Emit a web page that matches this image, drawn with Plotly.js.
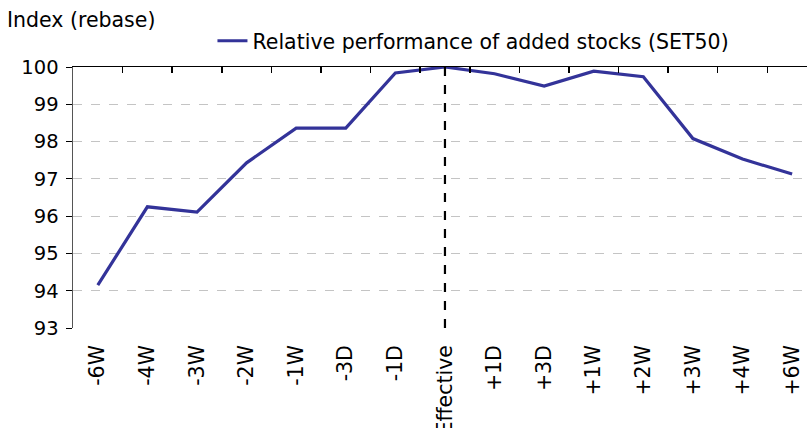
<!DOCTYPE html>
<html><head><meta charset="utf-8">
<script src="https://cdn.plot.ly/plotly-3.0.1.min.js"></script>
<style>body{margin:0;background:#fff}#chart{width:807px;height:428px}</style>
</head><body><div id="chart"></div>
<script>
const categories = ['-6W','-4W','-3W','-2W','-1W','-3D','-1D','Effective','+1D','+3D','+1W','+2W','+3W','+4W','+6W'];
const values = [94.15, 96.25, 96.11, 97.43, 98.36, 98.36, 99.84, 100.0, 99.82, 99.49, 99.89, 99.74, 98.08, 97.53, 97.13];
const seriesName = 'Relative performance of added stocks (SET50)';
const yTicks = [93,94,95,96,97,98,99,100];
const eventCategory = 'Effective';

const idx = categories.map((c,i)=>i);
const FONT = 'DejaVu Sans';
const trace = {
  x: idx, y: values, type: 'scatter', mode: 'lines', name: seriesName,
  line: {color: '#333399', width: 3.2}, xaxis: 'x', yaxis: 'y'
};
const evI = categories.indexOf(eventCategory);
const layout = {
  width: 807, height: 428,
  margin: {l: 73, r: 0, t: 67, b: 100},
  paper_bgcolor: '#fff', plot_bgcolor: '#fff',
  font: {family: FONT, size: 20, color: '#000'},
  title: {text: 'Index (rebase)', xref: 'container', yref: 'container', x: 7/807, xanchor: 'left', y: 1-20/428, yanchor: 'middle', font: {family: FONT, size: 20.5, color: '#000'}},
  showlegend: true,
  legend: {orientation: 'h', x: 0.19, xanchor: 'left', y: 1.1, yanchor: 'middle', font: {family: FONT, size: 20.5}, bgcolor: 'rgba(0,0,0,0)'},
  xaxis: {
    range: [-0.5, 14.3], tickmode: 'array', tickvals: idx, ticktext: categories,
    tickangle: -90, showline: false, ticks: '', showgrid: false, zeroline: false,
    tickfont: {family: FONT, size: 20.5}, ticklabelstandoff: 12, fixedrange: true
  },
  xaxis2: {
    overlaying: 'x', side: 'top', anchor: 'y', range: [-0.5, 14.3],
    tickmode: 'array', tickvals: idx.map(i=>i-0.5).concat([14.5]), showticklabels: false,
    ticks: 'inside', ticklen: 6, tickcolor: '#000', tickwidth: 1.5,
    showline: true, linecolor: '#000', linewidth: 1.5, showgrid: false, zeroline: false
  },
  yaxis: {
    range: [93, 100], tickmode: 'array', tickvals: yTicks,
    showline: true, linecolor: '#555', linewidth: 1.5, ticks: 'outside', ticklen: 6, tickcolor: '#000',
    showgrid: true, gridcolor: '#c4c4c4', griddash: 'dash', gridwidth: 1, zeroline: false,
    tickfont: {family: FONT, size: 19.5}, ticklabelstandoff: 3
  },
  shapes: [{type: 'line', xref: 'x', yref: 'paper', x0: evI, x1: evI, y0: 0, y1: 1,
    line: {color: '#000', width: 2.2, dash: 'dash'}}]
};
const dummy = {x: [0], y: [93], xaxis: 'x2', yaxis: 'y', type: 'scatter', mode: 'markers', marker: {opacity: 0}, showlegend: false, hoverinfo: 'skip'};
Plotly.newPlot('chart', [trace, dummy], layout, {displayModeBar: false, staticPlot: true});
</script></body></html>
